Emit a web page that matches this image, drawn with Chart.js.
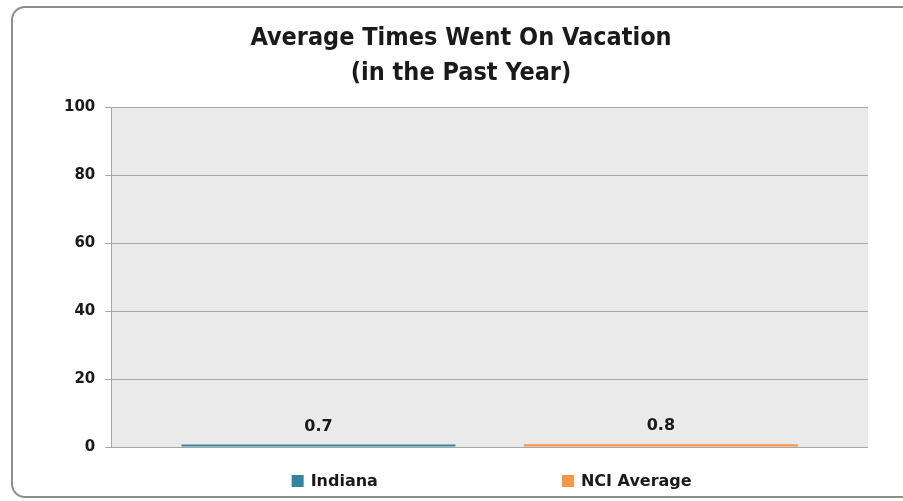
<!DOCTYPE html>
<html>
<head>
<meta charset="utf-8">
<script src="https://cdn.jsdelivr.net/npm/chart.js@4.4.1/dist/chart.umd.min.js"></script>
<style>
    html, body { margin: 0; padding: 0; background: #fff; }
    #wrap { position: relative; width: 903px; height: 501px; overflow: hidden; }
    #frame {
        position: absolute; left: 11px; top: 6px; width: 910px; height: 492px;
        border: 2px solid #8e8e8e; border-radius: 14px; box-sizing: border-box;
    }
    #c { position: absolute; left: 0; top: 0; }
</style>
</head>
<body>
<div id="wrap">
    <div id="frame"></div>
    <canvas id="c" width="903" height="501"></canvas>
</div>
<script>
// chart data
const seriesNames = ['Indiana', 'NCI Average'];
const seriesValues = [0.7, 0.8];
const seriesColors = ['#31859c', '#f79646'];
const yTicks = [0, 20, 40, 60, 80, 100];
const titleLines = ['Average Times Went On Vacation', '(in the Past Year)'];

const boldFont = '"DejaVu Sans", Verdana, sans-serif';

// grey plot background
const plotBg = {
    id: 'plotBg',
    beforeDraw(chart) {
        const a = chart.chartArea;
        const ctx = chart.ctx;
        ctx.save();
        ctx.fillStyle = '#eaeaea';
        ctx.fillRect(a.left, a.top, a.right - a.left, a.bottom - a.top);
        ctx.restore();
    }
};

// value labels above bars
const valueLabels = {
    id: 'valueLabels',
    afterDatasetsDraw(chart) {
        const ctx = chart.ctx;
        ctx.save();
        ctx.font = 'bold 16px ' + boldFont;
        ctx.fillStyle = '#1a1a1a';
        ctx.textAlign = 'center';
        ctx.textBaseline = 'bottom';
        chart.data.datasets.forEach((ds, i) => {
            chart.getDatasetMeta(i).data.forEach((bar, j) => {
                ctx.fillText(ds.data[j].toFixed(1), bar.x, bar.y - 10);
            });
        });
        ctx.restore();
    }
};

// wide spaced legend at the bottom
const spacedLegend = {
    id: 'spacedLegend',
    afterDraw(chart) {
        const ctx = chart.ctx;
        const a = chart.chartArea;
        const box = 12, gap = 7, spacing = 184;
        ctx.save();
        ctx.font = 'bold 16px ' + boldFont;
        const widths = seriesNames.map(n => box + gap + ctx.measureText(n).width);
        const total = widths.reduce((s, w) => s + w, 0) + spacing * (widths.length - 1);
        let x = (a.left + a.right) / 2 - total / 2 + 2;
        const y = 481;
        seriesNames.forEach((n, i) => {
            ctx.fillStyle = seriesColors[i];
            ctx.fillRect(x, y - box / 2, box, box);
            ctx.fillStyle = '#1a1a1a';
            ctx.textAlign = 'left';
            ctx.textBaseline = 'middle';
            ctx.fillText(n, x + box + gap, y + 1);
            x += widths[i] + spacing;
        });
        ctx.restore();
    }
};

new Chart(document.getElementById('c'), {
    type: 'bar',
    data: {
        labels: [''],
        datasets: seriesNames.map((n, i) => ({
            label: n,
            data: [seriesValues[i]],
            backgroundColor: seriesColors[i],
            borderWidth: 0,
            categoryPercentage: 0.905,
            barPercentage: 0.8
        }))
    },
    options: {
        responsive: false,
        animation: false,
        layout: { padding: { left: 54, right: 35, top: 0, bottom: 54 } },
        plugins: {
            legend: { display: false },
            tooltip: { enabled: false },
            title: {
                display: true,
                text: titleLines,
                color: '#1a1a1a',
                font: { family: '"Liberation Sans Narrow", "DejaVu Sans Condensed", sans-serif', size: 25, weight: 'bold', lineHeight: 1.4 },
                padding: { top: 21, bottom: 16 }
            }
        },
        scales: {
            x: { display: false },
            y: {
                min: 0,
                max: 100,
                afterBuildTicks: axis => { axis.ticks = yTicks.map(v => ({ value: v })); },
                border: { display: true, color: '#a6a6a6', width: 1 },
                grid: { color: '#a6a6a6', lineWidth: 1, drawTicks: true, tickLength: 6, tickColor: '#a6a6a6' },
                ticks: {
                    color: '#1a1a1a',
                    padding: 10,
                    font: { family: boldFont, size: 15, weight: 'bold' }
                }
            }
        }
    },
    plugins: [plotBg, valueLabels, spacedLegend]
});
</script>
</body>
</html>
